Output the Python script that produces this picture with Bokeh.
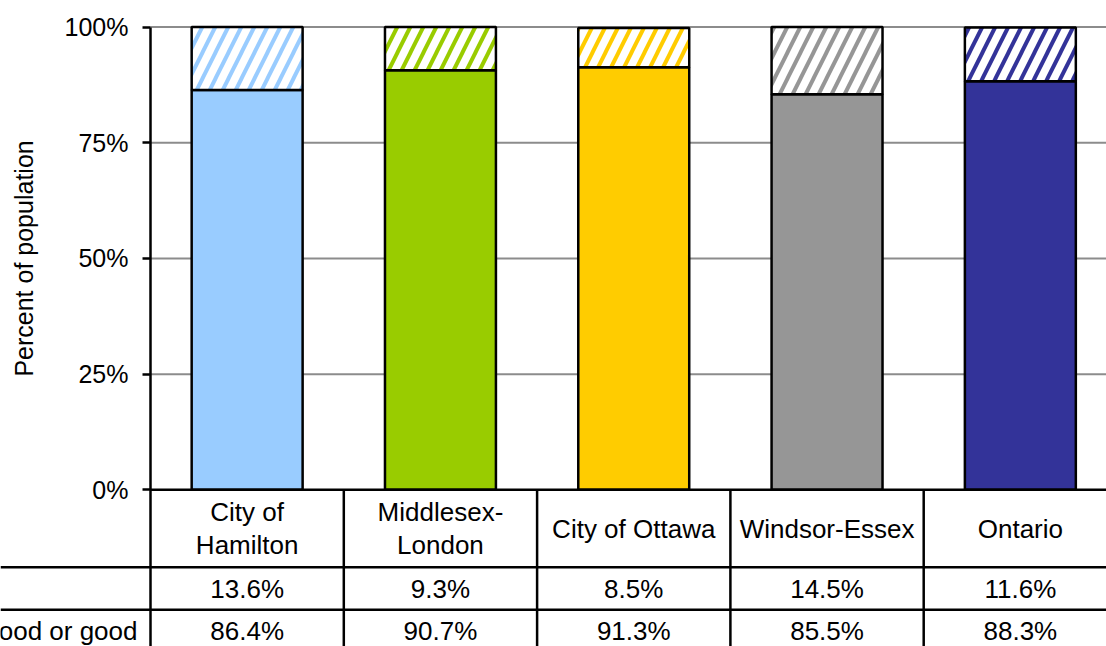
import math
from bokeh.plotting import figure
from bokeh.models import Range1d, FixedTicker, ColumnDataSource
from bokeh.embed import file_html
from bokeh.resources import INLINE
from bokeh.core.properties import value

# ---------------- data ----------------
categories = ["City of Hamilton", "Middlesex-London", "City of Ottawa", "Windsor-Essex", "Ontario"]
header_labels = ["City of\nHamilton", "Middlesex-\nLondon", "City of Ottawa", "Windsor-Essex", "Ontario"]
fair_or_poor = [13.6, 9.3, 8.5, 14.5, 11.6]
good_or_better = [86.4, 90.7, 91.3, 85.5, 88.3]
colors = ["#99CCFF", "#99CC00", "#FFCC00", "#969696", "#333399"]
row_labels = ["Fair or poor", "Excellent, very good or good"]
y_ticks = [0, 0.25, 0.5, 0.75, 1.0]
y_tick_labels = ["0%", "25%", "50%", "75%", "100%"]
y_title = "Percent of population"

# ---------------- geometry ----------------
W, H = 1106, 646
AXIS_PX = 150      # horizontal pixel of the value axis
ZERO_PX = 489.3    # vertical pixel of 0 %
PX_X = 193.3       # pixels per category
PX_Y = 462.7       # pixels per 100 %
FONT = "Liberation Sans"
FS = "25px"
FS_T = "26px"

x_start = -AXIS_PX / PX_X
x_end = x_start + W / PX_X
y_end = ZERO_PX / PX_Y
y_start = y_end - H / PX_Y

n = len(categories)
centers = [i + 0.5 for i in range(n)]
good_frac = [v / 100 for v in good_or_better]
top_frac = [(g + f) / 100 for g, f in zip(good_or_better, fair_or_poor)]

header_h = 77.5 / PX_Y
row_h = 42.5 / PX_Y
table_bottom = -(header_h + 2 * row_h)

p = figure(width=W, height=H, x_range=Range1d(x_start, x_end), y_range=Range1d(y_start, y_end),
           output_backend="svg", toolbar_location=None, min_border_left=0,
           min_border_right=0, min_border_top=0, min_border_bottom=0,
           x_axis_location=None)
p.outline_line_color = None
p.background_fill_color = "white"
p.xgrid.visible = False
p.ygrid.visible = False

ax = p.yaxis[0]
ax.fixed_location = 0
ax.bounds = (table_bottom, 1.0)
ax.ticker = FixedTicker(ticks=y_ticks)
ax.major_label_overrides = {t: l for t, l in zip(y_ticks, y_tick_labels)}
ax.minor_tick_line_color = None
ax.major_tick_in = 0
ax.major_tick_out = 8
ax.major_tick_line_width = 2.5
ax.axis_line_width = 2.5
ax.axis_line_color = "black"
ax.major_tick_line_color = "black"
ax.major_label_text_font = FONT
ax.major_label_text_font_size = FS
ax.major_label_text_color = "black"
ax.major_label_standoff = 14

# horizontal gridlines from the axis to the right edge
p.segment(x0=[0] * len(y_ticks[1:]), x1=[x_end] * len(y_ticks[1:]), y0=y_ticks[1:], y1=y_ticks[1:],
          line_color="#8c8c8c", line_width=2)

src = ColumnDataSource(dict(x=centers, good=good_frac, top=top_frac, color=colors))
p.vbar(x="x", bottom=0, top="good", width=0.574, fill_color="color",
       line_color="black", line_width=2.5, source=src)
p.vbar(x="x", bottom="good", top="top", width=0.574, fill_color="white",
       hatch_pattern="/", hatch_color="color", hatch_scale=26, hatch_weight=4,
       line_color="black", line_width=2.5, source=src)

# ---------------- data table ----------------
h_lines = [0, -header_h, -(header_h + row_h), table_bottom]
p.segment(x0=[0] * len(h_lines), x1=[x_end] * len(h_lines), y0=h_lines, y1=h_lines,
          line_color="black", line_width=2.5)
# row rules continue to the left under the legend column
p.segment(x0=[x_start] * 3, x1=[0] * 3, y0=h_lines[1:], y1=h_lines[1:],
          line_color="black", line_width=2.5)
v_x = [i + 1 for i in range(n)]
p.segment(x0=v_x, x1=v_x, y0=[0] * n, y1=[table_bottom] * n,
          line_color="black", line_width=2.5)

p.text(x=centers, y=[-header_h / 2] * n, text=header_labels, text_align="center",
       text_baseline="middle", text_font=value(FONT), text_font_size=FS_T,
       text_color="black", text_line_height=1.13)
p.text(x=centers, y=[-(header_h + row_h / 2)] * n, text=[f"{v:.1f}%" for v in fair_or_poor],
       text_align="center", text_baseline="middle", text_font=value(FONT),
       text_font_size=FS_T, text_color="black")
p.text(x=centers, y=[-(header_h + 1.5 * row_h)] * n, text=[f"{v:.1f}%" for v in good_or_better],
       text_align="center", text_baseline="middle", text_font=value(FONT),
       text_font_size=FS_T, text_color="black")

# legend column (its left part lies outside the picture, as in the original)
p.text(x=[-13 / PX_X], y=[-(header_h + 1.5 * row_h)], text=[row_labels[1]],
       text_align="right", text_baseline="middle", text_font=value(FONT),
       text_font_size=FS_T, text_color="black")

# axis title centred on the 0-100 % span
p.text(x=[-127 / PX_X], y=[0.5], text=[y_title], angle=math.pi / 2,
       text_align="center", text_baseline="middle", text_font=value(FONT),
       text_font_size=FS, text_color="black")

open("out.html", "w").write(file_html(p, INLINE))
